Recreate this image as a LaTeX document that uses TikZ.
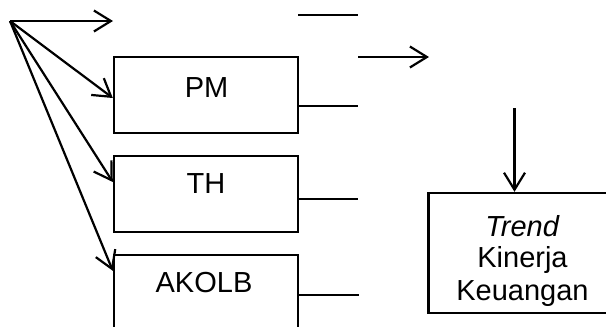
\documentclass[tikz,border=0pt]{standalone}
\usepackage{fontspec}
\setmainfont{Liberation Sans}
\usetikzlibrary{arrows.meta,calc}

\tikzset{
  box/.style={draw, line width=2.4pt, rectangle, inner sep=0pt},
  lbl/.style={anchor=base, inner sep=0pt, font=\fontsize{29}{32}\selectfont},
  arr/.style={line width=2.2pt, -{Straight Barb[length=17pt,width=21pt,line width=2.2pt]}},
  thin/.style={line width=1.4pt},
}

\begin{document}
\begin{tikzpicture}[x=1pt,y=-1pt]
  \useasboundingbox (0,0) rectangle (606,327);
  \clip (0,0) rectangle (606,327);

  % variable boxes
  \node[box, minimum width=184pt, minimum height=76pt] (pm) at (206,95) {};
  \node[box, minimum width=184pt, minimum height=76pt] (th) at (206,194) {};
  \node[box, minimum width=184pt, minimum height=90pt] (ak) at (206,300) {};
  \node[lbl] (pmtxt) at (206.5,97) {PM};
  \node[lbl] (thtxt) at (206,193) {TH};
  \node[lbl] (aktxt) at (204,292) {AKOLB};

  % outcome box
  \node[box, minimum width=188pt, minimum height=120pt] (kin) at (522.5,253) {};
  \node[lbl] (kin1) at (522.5,236) {\textit{Trend}};
  \node[lbl] (kin2) at (522.5,267) {Kinerja};
  \node[lbl] (kin3) at (522.5,300) {Keuangan};

  % fan of arrows from the common origin
  \coordinate (src) at (10,21);
  \coordinate (topend) at (113,21);
  \draw[arr] (src) -- (topend);
  \draw[arr] (src) -- ([yshift=-3pt]pm.west);
  \draw[arr] (src) -- ([yshift=12pt]th.west);
  \draw[arr] (src) -- ($(ak.north west)+(0,17)$);

  % short lines to the right of the boxes
  \coordinate (top1) at (298,15);
  \coordinate (top2) at (358,15);
  \draw[thin] (top1) -- (top2);
  \coordinate (pmend) at (358,106);
  \draw[thin] (pm.east |- pmend) -- (pmend);
  \coordinate (thend) at (358,199);
  \draw[thin] (th.east |- thend) -- (thend);
  \coordinate (akend) at (359,295);
  \draw[thin] (ak.east |- akend) -- (akend);

  % arrows towards the outcome
  \coordinate (mida) at (358,57);
  \coordinate (midb) at (429,57);
  \draw[arr] (mida) -- (midb);
  \coordinate (vtop) at (514.5,108);
  \draw[arr] (vtop) -- (vtop |- kin.north);
\end{tikzpicture}
\end{document}
